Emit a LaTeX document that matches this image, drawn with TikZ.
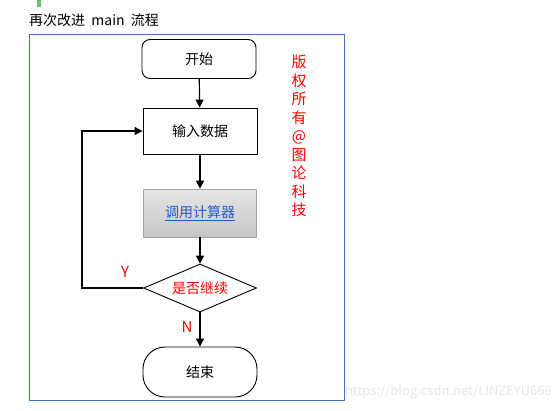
\documentclass[tikz,border=0pt]{standalone}
\usepackage{fontspec}
\setmainfont{Noto Sans CJK SC}
\usetikzlibrary{shapes.geometric,arrows.meta,shadings}
\definecolor{frameblue}{HTML}{4472C4}
\definecolor{linkblue}{HTML}{1F5FD0}
\definecolor{redtxt}{HTML}{FF0000}
\tikzset{
  base/.style={draw=black, line width=0.9pt, minimum width=114pt, minimum height=46pt, inner sep=0pt, font=\fontsize{14}{16}\selectfont},
  termbox/.style={base, rounded corners=8pt, minimum height=39pt},
  endbox/.style={base, rounded corners=22pt, minimum height=50pt},
  procbox/.style={base},
  grayproc/.style={draw=gray!70, line width=0.6pt, minimum width=113pt, minimum height=48pt, inner sep=0pt, top color=gray!20, bottom color=gray!45, font=\fontsize{14}{16}\selectfont},
  decbox/.style={diamond, draw=black, line width=0.9pt, aspect=2.35, minimum width=113pt, minimum height=48pt, inner sep=0pt, font=\fontsize{14}{16}\selectfont},
  flow/.style={draw=black, line width=1.2pt, -{Triangle[length=8pt,width=8pt]}},
  lab/.style={text=redtxt, font=\fontsize{15}{17}\selectfont}
}
\begin{document}
\begin{tikzpicture}[x=1pt,y=-1pt]
\useasboundingbox (0,0) rectangle (560,410);
\fill[white] (0,0) rectangle (560,410);
% green bar
\fill[green!60!black!60] (37,0) rectangle (41,7);
% title
\node[anchor=west, font=\fontsize{14}{16}\selectfont, inner sep=0pt] (title) at (29,20) {再次改进\ \ main\ \ 流程};
% frame
\draw[frameblue, line width=1pt] (29,34) rectangle (344,400);
% nodes
\node[termbox] (start) at (199,59) {开始};
\node[procbox] (input) at (200,131) {输入数据};
\node[grayproc] (calc) at (200,213) {\textcolor{linkblue}{\underline{调用计算器}}};
\node[decbox] (dec) at (200,288) {\textcolor{redtxt}{是否继续}};
\node[endbox] (end) at (200,372) {结束};
\coordinate (loopA) at (82,288);
\coordinate (loopB) at (82,131);
% connectors
\draw[flow] (start) -- (input);
\draw[flow] (input) -- (calc);
\draw[flow] (calc) -- (dec);
\draw[flow] (dec) -- (end);
\draw[flow] (dec.west) -- (loopA) -- (loopB) -- (input.west);
% labels
\node[lab] (ylab) at (125,272) {Y};
\node[lab] (nlab) at (187,327) {N};
% vertical copyright
\node[text=redtxt, font=\fontsize{15}{18.5}\selectfont, align=center, inner sep=0pt] (copy) at (299,136) {版\\权\\所\\有\\@\\图\\论\\科\\技};
% watermark
\node[text=gray!18, font=\fontsize{13}{15}\selectfont, anchor=east, inner sep=0pt] (wm) at (552,392) {https://blog.csdn.net/LINZEYU666};
\end{tikzpicture}
\end{document}
